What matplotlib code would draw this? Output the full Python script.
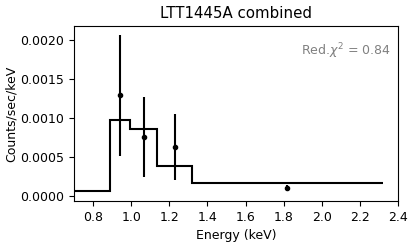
import numpy as np
import matplotlib
matplotlib.use('Agg')
import matplotlib.pyplot as plt

# ── model (step) ──────────────────────────────────────────────────────────────
model_edges = [0.70, 0.889, 0.994, 1.137, 1.317, 2.321]
model_vals = [0.000064, 0.000974, 0.000859, 0.000385, 0.000170]

# ── data points ───────────────────────────────────────────────────────────────
energy = [0.941, 1.066, 1.227, 1.819]
rate = [0.001295, 0.000752, 0.000628, 0.0000987]
err_lo = [0.000778, 0.000504, 0.000427, 0.000040]
err_hi = [0.000775, 0.000513, 0.000422, 0.000040]

red_chi2 = 0.84

fig = plt.figure(figsize=(4.16, 2.46), dpi=100)
ax = fig.add_axes([0.178, 0.183, 0.779, 0.711])

ax.stairs(model_vals, model_edges, color='black', lw=1.5, baseline=None)
ax.errorbar(energy, rate, yerr=[err_lo, err_hi], fmt='o', color='black',
            ms=3, lw=1.5, capsize=0)

ax.text(0.975, 0.857, r'Red.$\chi^2$ = %.2f' % red_chi2, transform=ax.transAxes,
        ha='right', va='center', color='grey', fontsize=9)

ax.set_xlim(0.7, 2.4)
ax.set_ylim(-0.000064, 0.00218)
ax.set_xticks(np.arange(0.8, 2.41, 0.2))
ax.set_yticks([0.0, 0.0005, 0.0010, 0.0015, 0.0020])
ax.yaxis.set_major_formatter(matplotlib.ticker.FormatStrFormatter('%.4f'))
ax.tick_params(labelsize=9)
ax.set_xlabel('Energy (keV)', fontsize=9)
ax.set_ylabel('Counts/sec/keV', fontsize=9, labelpad=1.5)
ax.set_title('LTT1445A combined', fontsize=10.8)

fig.savefig('out.png', dpi=100)
